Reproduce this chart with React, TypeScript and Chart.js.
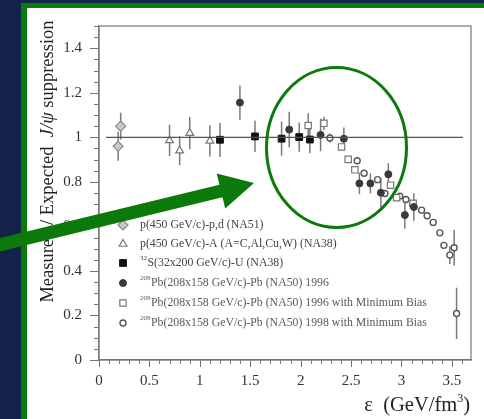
import React, { useEffect, useRef } from 'react';
import { Chart, registerables } from 'chart.js';
import { drawPoint } from 'chart.js/helpers';

Chart.register(...registerables);

// ---- axis ticks ----
const xTickValues = [0, 0.5, 1, 1.5, 2, 2.5, 3, 3.5];
const xTickLabels = ['0', '0.5', '1', '1.5', '2', '2.5', '3', '3.5'];
const yTickValues = [0, 0.2, 0.4, 0.6, 0.8, 1, 1.2, 1.4];
const yTickLabels = ['0', '0.2', '0.4', '0.6', '0.8', '1', '1.2', '1.4'];

// ---- series (x = energy density, y = measured/expected, e = error) ----
const na51X = [0.215, 0.19];
const na51Y = [1.05, 0.96];
const na51E = [0.06, 0.065];

const na38pAX = [0.70, 0.80, 0.90, 1.10];
const na38pAY = [0.986, 0.94, 1.019, 0.984];
const na38pAE = [0.07, 0.065, 0.072, 0.07];

const na38SUX = [1.20, 1.547, 1.811, 1.986, 2.092];
const na38SUY = [0.989, 1.004, 0.994, 1.001, 0.99];
const na38SUE = [0.077, 0.07, 0.077, 0.066, 0.062];

const na50_96X = [1.398, 1.887, 2.198, 2.429, 2.583, 2.692, 2.796, 2.870, 3.034, 3.123];
const na50_96Y = [1.156, 1.035, 1.011, 0.994, 0.793, 0.793, 0.751, 0.834, 0.651, 0.687];
const na50_96E = [0.077, 0.08, 0.073, 0.05, 0.048, 0.045, 0.066, 0.05, 0.062, 0.062];

const na50_96mbX = [2.075, 2.231, 2.406, 2.472, 2.538, 2.892, 2.952, 3.116];
const na50_96mbY = [1.053, 1.063, 0.957, 0.901, 0.854, 0.785, 0.729, 0.704];
const na50_96mbE = [0.055, 0.03, 0.015, 0, 0, 0, 0, 0];

const na50_98mbX = [2.29, 2.561, 2.630, 2.763, 2.836, 2.984, 3.044, 3.110, 3.200, 3.255, 3.315, 3.381, 3.421, 3.480, 3.523, 3.547];
const na50_98mbY = [0.997, 0.895, 0.839, 0.810, 0.748, 0.736, 0.721, 0.699, 0.673, 0.648, 0.618, 0.571, 0.515, 0.471, 0.504, 0.209];
const na50_98mbE = [0.02, 0, 0, 0, 0, 0, 0, 0, 0, 0, 0, 0, 0, 0.04, 0.08, 0.115];

const refLineX = [0.07, 3.61];
const refLineY = [1, 1];

const legendSup = ['', '', '32', '208', '208', '208'];
const legendText = [
  'p(450 GeV/c)-p,d (NA51)',
  'p(450 GeV/c)-A (A=C,Al,Cu,W) (NA38)',
  'S(32x200 GeV/c)-U (NA38)',
  'Pb(208x158 GeV/c)-Pb (NA50) 1996',
  'Pb(208x158 GeV/c)-Pb (NA50) 1996 with Minimum Bias',
  'Pb(208x158 GeV/c)-Pb (NA50) 1998 with Minimum Bias',
];

const SERIF = '"Liberation Serif", "DejaVu Serif", serif';

const toPts = (xs: number[], ys: number[]) => xs.map((x, i) => ({ x, y: ys[i] }));

const seriesDefs = [
  { x: na51X, y: na51Y, e: na51E, style: 'rectRot', r: 5, bg: '#c9c9c9', bc: '#8a8a8a', bw: 1.2 },
  { x: na38pAX, y: na38pAY, e: na38pAE, style: 'triangle', r: 4.5, bg: '#ffffff', bc: '#777777', bw: 1.2 },
  { x: na38SUX, y: na38SUY, e: na38SUE, style: 'rect', r: 4.8, bg: '#111111', bc: '#111111', bw: 1 },
  { x: na50_96X, y: na50_96Y, e: na50_96E, style: 'circle', r: 3.5, bg: '#3a3a3a', bc: '#3a3a3a', bw: 1 },
  { x: na50_96mbX, y: na50_96mbY, e: na50_96mbE, style: 'rect', r: 4.5, bg: '#ffffff', bc: '#777777', bw: 1.2 },
  { x: na50_98mbX, y: na50_98mbY, e: na50_98mbE, style: 'circle', r: 3, bg: '#ffffff', bc: '#555555', bw: 1.4 },
];

const decorPlugin = {
  id: 'decor',
  beforeDraw(chart: any) {
    const { ctx, width, height } = chart;
    ctx.save();
    ctx.fillStyle = '#14234a';
    ctx.fillRect(0, 0, width, height);
    ctx.fillStyle = '#0b7a0b';
    ctx.fillRect(21, 3, width - 21, height - 3);
    ctx.fillStyle = '#ffffff';
    ctx.fillRect(27, 8, width - 27, height - 8);
    ctx.restore();
  },
  beforeDatasetsDraw(chart: any) {
    const { ctx, chartArea: ca } = chart;
    const xs = chart.scales.x;
    const ys = chart.scales.y;
    ctx.save();
    // frame
    ctx.strokeStyle = '#777';
    ctx.lineWidth = 1.2;
    ctx.strokeRect(ca.left, ca.top, ca.right - ca.left, ca.bottom - ca.top);
    // ticks
    ctx.lineWidth = 1;
    ctx.beginPath();
    for (let k = 0; k <= 30; k++) {
      const py = Math.round(ys.getPixelForValue(k * 0.05)) + 0.5;
      const len = k % 4 === 0 ? 9 : 5;
      ctx.moveTo(ca.left - len, py);
      ctx.lineTo(ca.left, py);
    }
    for (let k = 0; k <= 36; k++) {
      const px = Math.round(xs.getPixelForValue(k * 0.1)) + 0.5;
      const len = k % 5 === 0 ? 7 : 4;
      ctx.moveTo(px, ca.bottom);
      ctx.lineTo(px, ca.bottom + len);
    }
    ctx.stroke();
    // error bars
    ctx.strokeStyle = '#7a7a7a';
    ctx.lineWidth = 1.5;
    ctx.beginPath();
    seriesDefs.forEach((s) => {
      s.x.forEach((xv, i) => {
        const e = s.e[i];
        if (!e) return;
        const px = xs.getPixelForValue(xv);
        ctx.moveTo(px, ys.getPixelForValue(s.y[i] + e));
        ctx.lineTo(px, ys.getPixelForValue(s.y[i] - e));
      });
    });
    ctx.stroke();
    ctx.restore();
  },
  afterDraw(chart: any) {
    const { ctx } = chart;
    const dpr = chart.currentDevicePixelRatio || 1;
    ctx.save();
    // legend
    const rowY = [225, 244, 263, 283, 303, 323];
    seriesDefs.forEach((s, i) => {
      ctx.fillStyle = s.bg;
      ctx.strokeStyle = s.bc;
      ctx.lineWidth = s.bw;
      drawPoint(ctx, { pointStyle: s.style as any, radius: s.r, borderWidth: s.bw, rotation: 0 }, 123, rowY[i]);
      let tx = 140;
      ctx.fillStyle = i < 3 ? '#444' : '#5a5a5a';
      ctx.textBaseline = 'middle';
      ctx.textAlign = 'left';
      if (legendSup[i]) {
        ctx.font = `7px ${SERIF}`;
        ctx.fillText(legendSup[i], tx, rowY[i] - 5);
        tx += ctx.measureText(legendSup[i]).width + 0.5;
      }
      ctx.font = `11.8px ${SERIF}`;
      ctx.fillText(legendText[i], tx, rowY[i]);
    });

    // y title
    ctx.fillStyle = '#222';
    const fs = 18.5;
    const parts = [
      { t: 'Measured / Expected  ', f: `${fs}px ${SERIF}` },
      { t: 'J/ψ', f: `italic ${fs}px ${SERIF}` },
      { t: ' suppression', f: `${fs}px ${SERIF}` },
    ];
    let total = 0;
    parts.forEach((p) => { ctx.font = p.f; total += ctx.measureText(p.t).width; });
    ctx.translate(53, 161.5);
    ctx.rotate(-Math.PI / 2);
    ctx.textBaseline = 'alphabetic';
    ctx.textAlign = 'left';
    let cx = -total / 2;
    parts.forEach((p) => { ctx.font = p.f; ctx.fillText(p.t, cx, 0); cx += ctx.measureText(p.t).width; });
    ctx.setTransform(dpr, 0, 0, dpr, 0, 0);

    // x title
    ctx.fillStyle = '#222';
    ctx.textBaseline = 'alphabetic';
    ctx.textAlign = 'left';
    const big = `20.5px ${SERIF}`;
    const small = `12px ${SERIF}`;
    ctx.font = big;
    const a = 'ε  (GeV/fm';
    const wa = ctx.measureText(a).width;
    ctx.font = small;
    const wb = ctx.measureText('3').width;
    ctx.font = big;
    const wc = ctx.measureText(')').width;
    let sx = 470 - (wa + wb + wc);
    ctx.fillText(a, sx, 411);
    sx += wa;
    ctx.font = small;
    ctx.fillText('3', sx, 402);
    sx += wb;
    ctx.font = big;
    ctx.fillText(')', sx, 411);

    // arrow
    const tip = { x: 254, y: 183 };
    const start = { x: -5, y: 246 };
    const dx = tip.x - start.x, dy = tip.y - start.y;
    const L = Math.hypot(dx, dy);
    const ux = dx / L, uy = dy / L;
    const nx = -uy, ny = ux;
    const hw = 6.5, headLen = 34, headHw = 18;
    const bx = tip.x - ux * headLen, by = tip.y - uy * headLen;
    ctx.fillStyle = '#0b7a0b';
    ctx.beginPath();
    ctx.moveTo(start.x + nx * hw, start.y + ny * hw);
    ctx.lineTo(bx + nx * hw, by + ny * hw);
    ctx.lineTo(bx + nx * headHw, by + ny * headHw);
    ctx.lineTo(tip.x, tip.y);
    ctx.lineTo(bx - nx * headHw, by - ny * headHw);
    ctx.lineTo(bx - nx * hw, by - ny * hw);
    ctx.lineTo(start.x - nx * hw, start.y - ny * hw);
    ctx.closePath();
    ctx.fill();

    // ellipse
    ctx.strokeStyle = '#0b7a0b';
    ctx.lineWidth = 3;
    ctx.beginPath();
    ctx.ellipse(336.5, 147.5, 70, 80, 0, 0, Math.PI * 2);
    ctx.stroke();
    ctx.restore();
  },
};

export default function App() {
  const ref = useRef<HTMLCanvasElement>(null);
  useEffect(() => {
    if (!ref.current) return;
    Chart.defaults.font.family = SERIF;
    const datasets: any[] = seriesDefs.map((s) => ({
      type: 'scatter',
      data: toPts(s.x, s.y),
      pointStyle: s.style,
      pointRadius: s.r,
      pointBackgroundColor: s.bg,
      pointBorderColor: s.bc,
      pointBorderWidth: s.bw,
      showLine: false,
    }));
    datasets.unshift({
      type: 'line',
      data: toPts(refLineX, refLineY),
      borderColor: '#555',
      borderWidth: 1.3,
      pointRadius: 0,
      fill: false,
    });
    const chart = new Chart(ref.current, {
      type: 'scatter',
      data: { datasets },
      options: {
        animation: false,
        responsive: true,
        maintainAspectRatio: false,
        events: [],
        layout: { padding: { left: 0, top: 20, right: 13, bottom: 0 } },
        plugins: { legend: { display: false }, tooltip: { enabled: false } },
        scales: {
          x: {
            type: 'linear',
            min: 0,
            max: 3.69,
            afterBuildTicks: (s: any) => { s.ticks = xTickValues.map((v) => ({ value: v })); },
            afterFit: (s: any) => { s.height = 59; },
            ticks: {
              callback: (v: any) => xTickLabels[xTickValues.indexOf(Number(v))] ?? '',
              font: { family: SERIF, size: 15 },
              color: '#333',
              padding: 12,
              maxRotation: 0,
              autoSkip: false,
            },
            grid: { display: false, drawTicks: false },
            border: { display: true, color: '#777', width: 1.2 },
          },
          y: {
            type: 'linear',
            min: 0,
            max: 1.5,
            afterBuildTicks: (s: any) => { s.ticks = yTickValues.map((v) => ({ value: v })); },
            afterFit: (s: any) => { s.width = 99; },
            ticks: {
              callback: (v: any) => yTickLabels[yTickValues.indexOf(Number(v))] ?? '',
              font: { family: SERIF, size: 15 },
              color: '#333',
              padding: 17,
              autoSkip: false,
            },
            grid: { display: false, drawTicks: false },
            border: { display: true, color: '#777', width: 1.2 },
          },
        },
      },
      plugins: [decorPlugin],
    });
    return () => chart.destroy();
  }, []);
  return (
    <div style={{ position: 'fixed', left: 0, top: 0, width: 484, height: 419 }}>
      <canvas ref={ref} />
    </div>
  );
}
